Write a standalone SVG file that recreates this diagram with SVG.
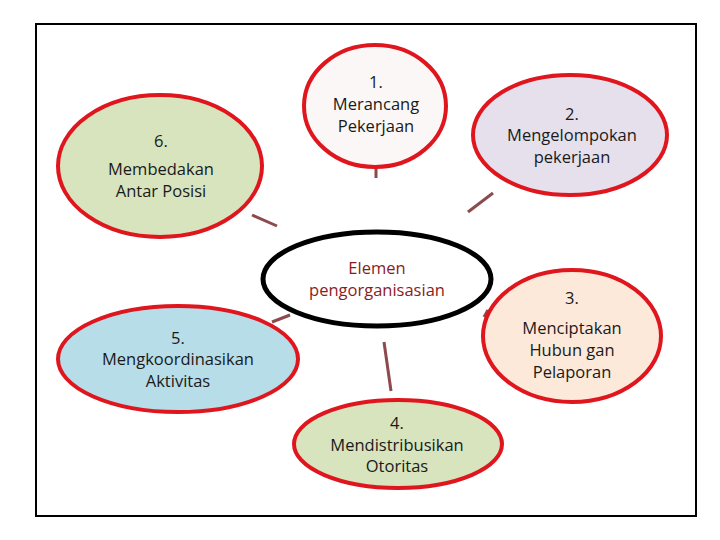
<svg xmlns="http://www.w3.org/2000/svg" width="720" height="540" viewBox="0 0 720 540">
<style>
.node{stroke:#E0161E;stroke-width:4}
.t{font-family:"Open Sans","Liberation Sans",sans-serif;font-size:16.5px;fill:#1a1a1a;text-anchor:middle}
.r{fill:#8B1C1C}
.c{stroke:#8C4A4C;stroke-width:3;fill:none}
</style>
<rect x="36" y="24" width="660" height="492" fill="#fff" stroke="#000" stroke-width="2"/>
<g id="connectors">
<line class="c" x1="376" y1="166" x2="376" y2="178"/>
<line class="c" x1="493" y1="193" x2="468" y2="212"/>
<line class="c" x1="252" y1="215" x2="277" y2="226"/>
<line class="c" x1="272" y1="322" x2="290" y2="315"/>
<line class="c" x1="384" y1="342" x2="391" y2="391"/>
<line class="c" x1="484" y1="317" x2="488" y2="310"/>
</g>
<g id="center">
<ellipse cx="377" cy="279" rx="114" ry="47" fill="#fff" stroke="#000" stroke-width="5"/>
<text class="t r" x="377" y="274">Elemen</text>
<text class="t r" x="377" y="296">pengorganisasian</text>
</g>
<g id="node1">
<ellipse class="node" cx="375" cy="106" rx="71" ry="61" fill="#FBF7F6"/>
<text class="t" x="376" y="88">1.</text>
<text class="t" x="376" y="110">Merancang</text>
<text class="t" x="376" y="132">Pekerjaan</text>
</g>
<g id="node2">
<ellipse class="node" cx="570" cy="135" rx="97" ry="60" fill="#E5E0EC"/>
<text class="t" x="572" y="120">2.</text>
<text class="t" x="572" y="141">Mengelompokan</text>
<text class="t" x="572" y="163">pekerjaan</text>
</g>
<g id="node3">
<ellipse class="node" cx="572" cy="336" rx="89" ry="66" fill="#FDE9D9"/>
<text class="t" x="572" y="304">3.</text>
<text class="t" x="572" y="334">Menciptakan</text>
<text class="t" x="572" y="356">Hubun gan</text>
<text class="t" x="572" y="378">Pelaporan</text>
</g>
<g id="node4">
<ellipse class="node" cx="398" cy="444" rx="104" ry="44" fill="#D7E4BD"/>
<text class="t" x="397" y="429">4.</text>
<text class="t" x="397" y="451">Mendistribusikan</text>
<text class="t" x="397" y="472">Otoritas</text>
</g>
<g id="node5">
<ellipse class="node" cx="178" cy="359" rx="120" ry="53" fill="#B7DDE8"/>
<text class="t" x="178" y="344">5.</text>
<text class="t" x="178" y="365">Mengkoordinasikan</text>
<text class="t" x="178" y="387">Aktivitas</text>
</g>
<g id="node6">
<ellipse class="node" cx="160" cy="166" rx="102" ry="71" fill="#D7E4BD"/>
<text class="t" x="161" y="147">6.</text>
<text class="t" x="161" y="175">Membedakan</text>
<text class="t" x="161" y="197">Antar Posisi</text>
</g>
</svg>
